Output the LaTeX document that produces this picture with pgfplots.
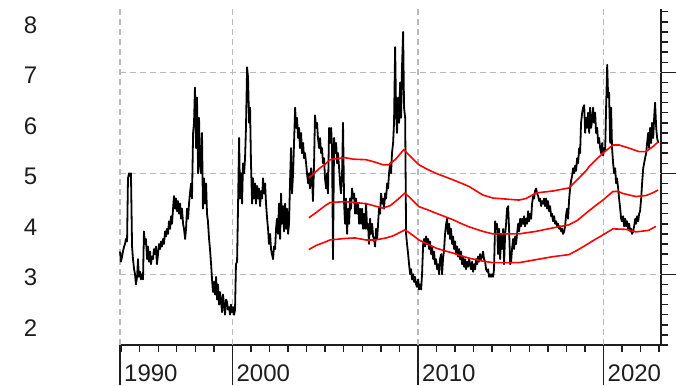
\documentclass[border=0pt]{standalone}
\usepackage{fontspec}
\setmainfont{Liberation Sans}
\usepackage{pgfplots}
\usepackage{pgfplotstable}
\pgfplotsset{compat=1.18}
\definecolor{gridgray}{RGB}{185,185,185}
\definecolor{axisdark}{RGB}{30,30,30}

\pgfplotstableread{
year val
1993.94 3.45
1993.99 3.25
1994.05 3.35
1994.10 3.45
1994.16 3.55
1994.21 3.60
1994.26 3.70
1994.32 3.65
1994.37 4.90
1994.43 5.00
1994.48 4.95
1994.53 5.00
1994.59 3.55
1994.64 3.30
1994.70 3.10
1994.75 3.00
1994.80 2.80
1994.86 2.95
1994.91 3.30
1994.96 2.95
1995.02 3.05
1995.07 2.90
1995.13 3.00
1995.18 2.90
1995.23 3.85
1995.29 3.60
1995.34 3.70
1995.40 3.30
1995.45 3.55
1995.50 3.25
1995.56 3.45
1995.61 3.20
1995.66 3.35
1995.72 3.30
1995.77 3.50
1995.83 3.40
1995.88 3.55
1995.93 3.20
1995.99 3.40
1996.04 3.60
1996.10 3.50
1996.15 3.65
1996.20 3.55
1996.26 3.70
1996.31 3.60
1996.37 3.85
1996.42 3.75
1996.47 3.90
1996.53 3.80
1996.58 4.05
1996.64 3.90
1996.69 4.15
1996.74 4.00
1996.80 4.30
1996.85 4.55
1996.91 4.30
1996.96 4.50
1997.01 4.25
1997.07 4.45
1997.12 4.20
1997.18 4.40
1997.23 4.10
1997.28 4.30
1997.34 4.00
1997.39 3.90
1997.45 3.70
1997.50 3.90
1997.55 4.30
1997.61 4.10
1997.66 4.40
1997.71 4.60
1997.77 4.80
1997.82 4.50
1997.88 5.80
1997.93 6.00
1997.98 6.70
1998.04 5.50
1998.09 6.50
1998.15 5.00
1998.20 6.10
1998.25 5.20
1998.31 5.00
1998.36 5.80
1998.41 4.30
1998.47 4.90
1998.52 4.40
1998.58 4.80
1998.63 4.20
1998.68 4.05
1998.74 3.70
1998.79 3.50
1998.85 3.20
1998.90 2.90
1998.95 2.65
1999.01 2.85
1999.06 2.60
1999.12 2.95
1999.17 2.50
1999.22 2.80
1999.28 2.40
1999.33 2.65
1999.39 2.45
1999.44 2.25
1999.49 2.60
1999.55 2.40
1999.60 2.20
1999.66 2.50
1999.71 2.45
1999.76 2.30
1999.82 2.35
1999.87 2.20
1999.92 2.40
1999.98 2.25
2000.03 2.35
2000.09 2.20
2000.14 2.30
2000.19 3.20
2000.25 3.25
2000.30 4.30
2000.36 5.70
2000.41 4.50
2000.46 5.00
2000.52 4.40
2000.57 5.20
2000.63 5.00
2000.68 5.30
2000.73 5.90
2000.79 7.10
2000.84 6.90
2000.90 6.00
2000.95 6.30
2001.00 5.20
2001.06 4.40
2001.11 4.90
2001.16 4.50
2001.22 4.80
2001.27 4.40
2001.33 4.75
2001.38 4.50
2001.43 4.70
2001.49 4.35
2001.54 4.65
2001.60 4.50
2001.65 4.90
2001.70 4.60
2001.76 4.80
2001.81 4.40
2001.87 4.10
2001.92 3.90
2001.97 3.60
2002.03 3.80
2002.08 3.50
2002.13 3.40
2002.19 3.30
2002.24 3.55
2002.30 3.50
2002.35 3.90
2002.40 4.10
2002.46 3.80
2002.51 4.40
2002.57 3.70
2002.62 4.60
2002.67 4.00
2002.73 4.35
2002.78 3.85
2002.84 4.40
2002.89 3.90
2002.94 4.30
2003.00 3.80
2003.05 4.00
2003.11 4.90
2003.16 5.50
2003.21 4.60
2003.27 5.00
2003.32 5.60
2003.38 6.30
2003.43 5.90
2003.48 6.10
2003.54 5.70
2003.59 5.90
2003.64 5.50
2003.70 5.80
2003.75 5.40
2003.81 5.60
2003.86 5.30
2003.91 5.40
2003.97 5.20
2004.02 5.00
2004.08 4.80
2004.13 5.00
2004.18 4.70
2004.24 5.10
2004.29 4.90
2004.34 4.45
2004.40 5.20
2004.45 6.15
2004.51 5.90
2004.56 6.00
2004.61 5.70
2004.67 5.50
2004.72 5.70
2004.78 5.40
2004.83 5.50
2004.88 5.20
2004.94 5.30
2004.99 4.90
2005.05 4.70
2005.10 5.00
2005.15 4.60
2005.21 5.90
2005.26 5.60
2005.32 5.90
2005.37 5.50
2005.42 3.30
2005.48 5.70
2005.53 5.40
2005.59 5.60
2005.64 5.20
2005.69 5.40
2005.75 5.10
2005.80 4.80
2005.85 4.60
2005.91 5.00
2005.96 6.00
2006.02 4.40
2006.07 4.00
2006.12 4.50
2006.18 3.80
2006.23 4.30
2006.29 4.00
2006.34 4.50
2006.39 4.30
2006.45 4.70
2006.50 4.50
2006.56 4.60
2006.61 4.20
2006.66 4.50
2006.72 4.20
2006.77 4.40
2006.83 4.00
2006.88 4.30
2006.93 4.00
2006.99 4.30
2007.04 3.90
2007.09 4.20
2007.15 3.90
2007.20 4.40
2007.26 3.90
2007.31 4.00
2007.36 3.60
2007.42 4.10
2007.47 3.80
2007.53 4.00
2007.58 3.75
2007.63 3.70
2007.69 3.55
2007.74 3.90
2007.80 3.70
2007.85 4.00
2007.90 4.30
2007.96 4.20
2008.01 4.60
2008.07 4.40
2008.12 4.50
2008.17 4.30
2008.23 4.60
2008.28 4.50
2008.34 4.80
2008.39 4.70
2008.44 5.00
2008.50 5.20
2008.55 5.00
2008.60 5.40
2008.66 5.60
2008.71 6.00
2008.77 7.50
2008.82 6.20
2008.87 5.80
2008.93 6.50
2008.98 6.00
2009.04 6.80
2009.09 6.10
2009.14 7.10
2009.20 7.80
2009.25 6.30
2009.31 6.10
2009.36 3.80
2009.41 3.60
2009.47 3.40
2009.52 3.20
2009.58 3.00
2009.63 3.10
2009.68 2.90
2009.74 3.00
2009.79 2.85
2009.84 2.95
2009.90 2.80
2009.95 2.75
2010.01 2.90
2010.06 2.70
2010.11 2.80
2010.17 2.70
2010.22 3.00
2010.28 3.60
2010.33 3.70
2010.38 3.55
2010.44 3.75
2010.49 3.60
2010.55 3.70
2010.60 3.50
2010.65 3.65
2010.71 3.40
2010.76 3.55
2010.82 3.30
2010.87 3.45
2010.92 3.20
2010.98 3.30
2011.03 3.10
2011.08 3.20
2011.14 3.00
2011.19 3.30
2011.25 3.40
2011.30 3.00
2011.35 3.30
2011.41 3.50
2011.46 3.80
2011.52 4.00
2011.57 4.10
2011.62 3.80
2011.68 4.00
2011.73 3.70
2011.78 3.90
2011.84 3.60
2011.89 3.75
2011.95 3.50
2012.00 3.65
2012.05 3.40
2012.11 3.55
2012.16 3.35
2012.22 3.50
2012.27 3.30
2012.32 3.45
2012.38 3.20
2012.43 3.35
2012.49 3.15
2012.54 3.30
2012.59 3.10
2012.65 3.25
2012.70 3.15
2012.76 3.30
2012.81 3.20
2012.86 3.10
2012.92 3.25
2012.97 3.05
2013.03 3.20
2013.08 3.10
2013.13 3.30
2013.19 3.20
2013.24 3.35
2013.29 3.25
2013.35 3.40
2013.40 3.30
2013.46 3.35
2013.51 3.45
2013.56 3.30
2013.62 3.25
2013.67 3.10
2013.73 3.05
2013.78 3.10
2013.83 2.95
2013.89 3.00
2013.94 2.95
2013.99 3.00
2014.05 2.95
2014.10 3.10
2014.16 4.05
2014.21 3.90
2014.26 4.00
2014.32 3.40
2014.37 3.90
2014.43 3.30
2014.48 3.80
2014.53 3.50
2014.59 3.90
2014.64 3.20
2014.70 3.80
2014.75 4.00
2014.80 4.30
2014.86 4.35
2014.91 3.90
2014.97 3.20
2015.02 3.25
2015.07 3.50
2015.13 3.70
2015.18 3.50
2015.24 3.75
2015.29 3.60
2015.34 3.80
2015.40 4.00
2015.45 3.85
2015.51 4.10
2015.56 3.95
2015.61 4.10
2015.67 4.00
2015.72 4.15
2015.77 3.95
2015.83 4.10
2015.88 4.00
2015.94 4.25
2015.99 4.05
2016.04 4.20
2016.10 4.10
2016.15 4.40
2016.21 4.55
2016.26 4.50
2016.31 4.65
2016.37 4.70
2016.42 4.60
2016.48 4.55
2016.53 4.45
2016.58 4.50
2016.64 4.35
2016.69 4.45
2016.75 4.40
2016.80 4.50
2016.85 4.35
2016.91 4.50
2016.96 4.30
2017.01 4.45
2017.07 4.25
2017.12 4.35
2017.18 4.15
2017.23 4.20
2017.28 4.05
2017.34 4.15
2017.39 4.00
2017.45 4.05
2017.50 3.95
2017.55 4.00
2017.61 3.90
2017.66 3.95
2017.72 3.85
2017.77 3.90
2017.82 3.80
2017.88 3.85
2017.93 3.95
2017.99 4.20
2018.04 4.30
2018.09 4.10
2018.15 4.50
2018.20 4.70
2018.25 4.85
2018.31 4.95
2018.36 5.10
2018.42 5.00
2018.47 5.15
2018.52 5.05
2018.58 5.30
2018.63 5.20
2018.69 5.50
2018.74 5.40
2018.79 6.00
2018.85 6.20
2018.90 6.30
2018.96 6.35
2019.01 5.80
2019.06 6.10
2019.12 5.90
2019.17 6.20
2019.23 5.80
2019.28 6.30
2019.33 5.90
2019.39 6.05
2019.44 6.30
2019.49 6.00
2019.55 6.20
2019.60 5.80
2019.66 5.90
2019.71 5.60
2019.76 5.70
2019.82 5.50
2019.87 5.40
2019.93 5.60
2019.98 5.35
2020.03 5.50
2020.09 5.45
2020.14 6.30
2020.20 7.15
2020.25 6.50
2020.30 6.60
2020.36 5.60
2020.41 6.30
2020.46 5.50
2020.52 5.20
2020.57 5.00
2020.63 5.10
2020.68 4.80
2020.73 4.90
2020.79 4.70
2020.84 4.50
2020.90 4.30
2020.95 4.10
2021.00 4.05
2021.06 4.15
2021.11 3.95
2021.17 4.10
2021.22 3.95
2021.27 4.05
2021.33 3.90
2021.38 4.00
2021.44 3.85
2021.49 3.90
2021.54 3.80
2021.60 3.85
2021.65 3.95
2021.71 4.10
2021.76 4.00
2021.81 4.15
2021.87 4.05
2021.92 4.20
2021.97 4.25
2022.03 4.50
2022.08 4.80
2022.14 5.10
2022.19 5.20
2022.24 5.30
2022.30 5.40
2022.35 5.60
2022.41 5.80
2022.46 5.50
2022.51 5.90
2022.57 5.60
2022.62 6.00
2022.68 5.70
2022.73 6.10
2022.78 6.40
2022.84 5.90
2022.89 5.70
2022.95 5.60
}\pricedata

\pgfplotstableread{
year val
2004.12 4.91
2004.40 5.00
2004.70 5.10
2005.00 5.18
2005.26 5.27
2005.60 5.29
2006.06 5.31
2006.50 5.28
2007.20 5.27
2007.70 5.22
2008.11 5.17
2008.44 5.17
2008.80 5.28
2009.24 5.47
2009.60 5.33
2010.05 5.17
2010.50 5.08
2010.97 5.00
2011.40 4.94
2011.89 4.87
2012.30 4.81
2012.75 4.74
2013.10 4.66
2013.50 4.57
2014.04 4.51
2014.74 4.49
2015.44 4.47
2015.82 4.50
2016.36 4.61
2016.80 4.63
2017.28 4.65
2017.70 4.68
2018.14 4.71
2018.52 4.85
2019.06 5.05
2019.22 5.13
2019.60 5.27
2019.97 5.40
2020.51 5.56
2020.84 5.56
2021.37 5.50
2021.91 5.43
2022.29 5.43
2022.67 5.53
2022.94 5.62
}\upperband

\pgfplotstableread{
year val
2004.12 4.12
2004.50 4.22
2005.00 4.36
2005.26 4.42
2006.06 4.44
2006.60 4.42
2007.20 4.40
2007.80 4.34
2008.11 4.31
2008.50 4.36
2008.81 4.45
2009.30 4.61
2009.70 4.47
2010.05 4.34
2010.50 4.28
2010.97 4.21
2011.40 4.15
2011.89 4.08
2012.30 4.01
2012.75 3.94
2013.50 3.85
2014.04 3.80
2014.74 3.80
2015.44 3.80
2016.36 3.85
2017.28 3.92
2018.14 3.98
2018.60 4.07
2019.06 4.21
2019.50 4.34
2019.97 4.47
2020.51 4.64
2020.80 4.64
2021.05 4.60
2021.75 4.54
2022.29 4.56
2022.70 4.62
2022.94 4.67
}\middleband

\pgfplotstableread{
year val
2004.12 3.49
2004.50 3.57
2005.00 3.64
2005.26 3.68
2006.06 3.71
2006.60 3.72
2007.20 3.68
2007.70 3.68
2008.28 3.72
2008.65 3.76
2009.30 3.88
2009.70 3.78
2010.05 3.68
2010.50 3.60
2010.97 3.52
2011.40 3.47
2011.89 3.42
2012.30 3.37
2012.75 3.32
2013.50 3.26
2014.04 3.23
2014.74 3.23
2015.44 3.23
2016.36 3.29
2017.28 3.35
2018.14 3.39
2018.60 3.48
2019.06 3.58
2019.50 3.68
2019.97 3.78
2020.51 3.90
2021.21 3.89
2021.75 3.84
2022.43 3.87
2022.83 3.95
}\lowerband

\begin{document}
\begin{tikzpicture}
\useasboundingbox (0,0) rectangle (676pt,385pt);
% labels on the left
\begin{axis}[
  at={(120pt,40pt)}, anchor=south west,
  scale only axis, width=541pt, height=335.8pt,
  xmin=1993.94, xmax=2023.10, ymin=1.6, ymax=8.25,
  axis line style={draw=none},
  xtick=\empty,
  ytick={2,3,4,5,6,7,8},
  ytick pos=left,
  major tick length=0pt,
  /pgf/number format/assume math mode=true,
  yticklabel style={font=\fontsize{24}{28}\selectfont, text=axisdark, anchor=center, xshift=-89.5pt, yshift=-3pt},
]
\end{axis}
\begin{axis}[
  at={(120pt,40pt)}, anchor=south west,
  scale only axis, width=541pt, height=335.8pt,
  xmin=1993.94, xmax=2023.10, ymin=1.6, ymax=8.25,
  axis x line*=bottom, axis y line*=right,
  axis line style={-, line width=1.4pt, axisdark},
  every tick/.style={line width=1.4pt, axisdark},
  tick align=outside,
  major tick length=7pt,
  xtick={1994,1995,...,2023}, xticklabels={},
  extra x ticks={1993.94,2000,2010,2020},
  extra x tick labels={1990,2000,2010,2020},
  extra x tick style={major tick length=40pt, grid=major,
     xticklabel style={font=\fontsize{24}{28}\selectfont, text=axisdark, anchor=base west, inner sep=0pt, xshift=4pt, yshift=4pt}},
  ytick={1.6,1.8,2.0,2.2,2.4,2.6,2.8,3.0,3.2,3.4,3.6,3.8,4.0,4.2,4.4,4.6,4.8,5.0,5.2,5.4,5.6,5.8,6.0,6.2,6.4,6.6,6.8,7.0,7.2,7.4,7.6,7.8,8.0,8.2},
  yticklabels={},
  extra y ticks={3,5,7},
  extra y tick labels={},
  extra y tick style={major tick length=15pt, grid=major},
  major grid style={gridgray, line width=1.3pt, dash pattern=on 6pt off 4pt},
  clip=false,
]
\addplot[black, line width=1.8pt, line join=round] table[x=year, y=val] {\pricedata};
\addplot[red, line width=1.6pt] table[x=year, y=val] {\upperband};
\addplot[red, line width=1.6pt] table[x=year, y=val] {\middleband};
\addplot[red, line width=1.6pt] table[x=year, y=val] {\lowerband};
\end{axis}
\end{tikzpicture}
\end{document}
